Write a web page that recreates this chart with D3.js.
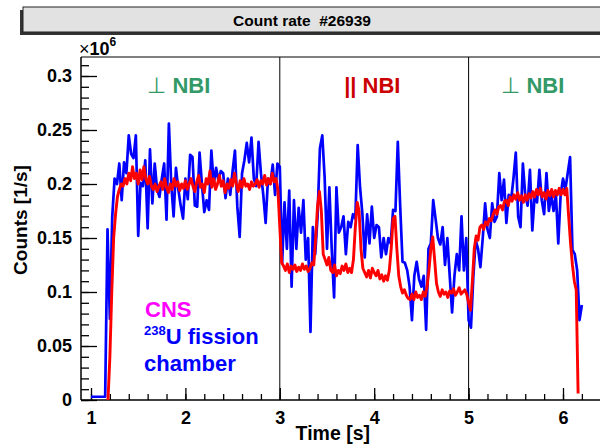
<!DOCTYPE html>
<html><head><meta charset="utf-8">
<script src="https://cdn.jsdelivr.net/npm/d3@7"></script>
<style>
html,body{margin:0;padding:0;background:#fff;}
svg text{font-family:"Liberation Sans",Arial,Helvetica,sans-serif;font-weight:bold;}
</style></head>
<body>
<svg id="chart" width="600" height="444"></svg>
<script>
// ---- data (counts in units of 1e6 per second) ----
const titleText = "Count rate\u00A0\u00A0#26939";
const xTickValues = [1, 2, 3, 4, 5, 6];
const yTickValues = [0, 0.05, 0.1, 0.15, 0.2, 0.25, 0.3];
const yTickLabels = ["0", "0.05", "0.1", "0.15", "0.2", "0.25", "0.3"];
const phaseBoundaries = [3, 5];

// 238U fission chamber (blue), sampled from t = 1.0 s every 0.025 s
const fissionStart = 1.0, fissionStep = 0.025;
const fissionValues = [
0.003,0.003,0.003,0.003,0.003,0.003,0.003,0.158,0.075,0.17,
0.205,0.20,0.219,0.185,0.220,0.21,0.245,0.228,0.224,0.245,
0.152,0.201,0.198,0.222,0.159,0.232,0.182,0.219,0.195,0.188,
0.205,0.219,0.167,0.256,0.20,0.170,0.215,0.195,0.18,0.168,
0.205,0.186,0.227,0.225,0.18,0.179,0.229,0.20,0.174,0.185,
0.176,0.231,0.20,0.215,0.203,0.212,0.21,0.187,0.205,0.19,
0.212,0.231,0.179,0.151,0.21,0.222,0.238,0.22,0.243,0.205,
0.198,0.239,0.21,0.19,0.164,0.205,0.20,0.218,0.19,0.219,
0.216,0.127,0.183,0.14,0.194,0.105,0.185,0.14,0.178,0.155,
0.185,0.13,0.15,0.063,0.16,0.135,0.17,0.233,0.245,0.206,
0.14,0.197,0.14,0.095,0.197,0.155,0.16,0.17,0.135,0.165,
0.16,0.172,0.168,0.236,0.197,0.172,0.132,0.172,0.145,0.179,
0.15,0.162,0.16,0.132,0.15,0.135,0.15,0.145,0.176,0.175,
0.239,0.18,0.128,0.127,0.12,0.105,0.074,0.115,0.128,0.112,
0.105,0.115,0.065,0.14,0.145,0.185,0.168,0.15,0.144,0.16,
0.125,0.15,0.115,0.081,0.115,0.135,0.12,0.170,0.12,0.15,
0.074,0.067,0.114,0.148,0.14,0.123,0.15,0.182,0.158,0.15,
0.182,0.165,0.17,0.21,0.185,0.204,0.164,0.19,0.185,0.205,
0.229,0.17,0.16,0.219,0.19,0.18,0.213,0.157,0.19,0.183,
0.213,0.185,0.172,0.21,0.175,0.19,0.175,0.19,0.145,0.19,
0.205,0.195,0.21,0.225,0.139,0.135,0.12,0.074,0.088
];

// CNS (red), sampled from t = 1.18 s every 0.02 s
const cnsStart = 1.18, cnsStep = 0.02;
const cnsValues = [
0.0,0.04,0.10,0.15,0.172,0.188,0.195,0.20,0.198,0.205,
0.200,0.21,0.203,0.216,0.205,0.21,0.20,0.213,0.204,0.216,
0.205,0.2,0.207,0.198,0.195,0.2,0.193,0.198,0.202,0.195,
0.205,0.197,0.192,0.2,0.195,0.205,0.198,0.202,0.194,0.2,
0.196,0.203,0.195,0.2,0.205,0.198,0.193,0.202,0.208,0.197,
0.2,0.192,0.205,0.2,0.212,0.197,0.205,0.195,0.2,0.208,
0.198,0.203,0.192,0.2,0.196,0.204,0.198,0.21,0.2,0.193,
0.203,0.197,0.205,0.198,0.2,0.195,0.202,0.198,0.2,0.204,
0.197,0.203,0.2,0.208,0.199,0.205,0.2,0.21,0.202,0.205,
0.195,0.16,0.127,0.124,0.12,0.126,0.118,0.124,0.121,0.125,
0.119,0.123,0.12,0.126,0.121,0.124,0.119,0.122,0.127,0.125,
0.15,0.18,0.193,0.175,0.135,0.13,0.125,0.132,0.12,0.118,
0.125,0.115,0.12,0.117,0.124,0.12,0.126,0.118,0.122,0.118,
0.13,0.16,0.183,0.175,0.14,0.122,0.118,0.114,0.12,0.113,
0.122,0.118,0.115,0.12,0.112,0.116,0.11,0.115,0.111,0.12,
0.14,0.168,0.17,0.14,0.115,0.105,0.099,0.102,0.097,0.094,
0.093,0.098,0.093,0.1,0.095,0.097,0.093,0.1,0.096,0.105,
0.12,0.14,0.151,0.13,0.108,0.1,0.096,0.102,0.098,0.1,
0.095,0.101,0.099,0.103,0.097,0.1,0.104,0.098,0.1,0.102,
0.098,0.09,0.083,0.11,0.14,0.152,0.148,0.16,0.162,0.158,
0.165,0.162,0.168,0.166,0.172,0.176,0.172,0.179,0.18,0.176,
0.184,0.185,0.18,0.188,0.184,0.19,0.186,0.192,0.185,0.189,
0.183,0.19,0.185,0.191,0.187,0.193,0.188,0.195,0.19,0.196,
0.188,0.192,0.186,0.194,0.189,0.195,0.188,0.194,0.19,0.196,
0.19,0.195,0.19,0.196,0.17,0.145,0.125,0.11,0.102,0.006
];

const phaseLabels = [
  {t: 1.93, sym: "\u22A5", text: "NBI", color: "#339966"},
  {t: 3.98, sym: "||", text: "NBI", color: "#cc0000"},
  {t: 5.68, sym: "\u22A5", text: "NBI", color: "#339966"}
];

// ---- layout ----
const svg = d3.select("#chart");
const frame = {left: 81, top: 57, bottom: 400, right: 612};
const x = d3.scaleLinear().domain([1, 6]).range([91, 563]);
const y = d3.scaleLinear().domain([0, 0.3]).range([400, 76]);
const xMin = x.invert(frame.left), xMax = x.invert(frame.right);

// title box
svg.append("rect").attr("x", 20).attr("y", 10).attr("width", 600).attr("height", 25).attr("fill", "#333");
svg.append("rect").attr("x", 23).attr("y", 7).attr("width", 600).attr("height", 25)
  .attr("fill", "#e2e2e2").attr("stroke", "#222").attr("stroke-width", 1);
svg.append("text").attr("x", 302).attr("y", 26).attr("text-anchor", "middle")
  .attr("font-size", 15.5).attr("fill", "#000").text(titleText);

// frame
svg.append("line").attr("x1", frame.left).attr("x2", frame.right).attr("y1", frame.top).attr("y2", frame.top)
  .attr("stroke", "#000").attr("stroke-width", 1);

// phase boundaries
svg.selectAll("line.phase").data(phaseBoundaries).enter().append("line")
  .attr("class", "phase")
  .attr("x1", d => x(d)).attr("x2", d => x(d))
  .attr("y1", frame.top).attr("y2", frame.bottom)
  .attr("stroke", "#000").attr("stroke-width", 1);

// y axis
const yMinor = d3.range(0, 0.3175, 0.01).map(v => +v.toFixed(3));
svg.append("g").attr("transform", `translate(${frame.left},0)`)
  .call(d3.axisRight(y).tickValues(yMinor).tickSize(8).tickFormat(""))
  .call(g => g.select(".domain").remove())
  .call(g => g.selectAll("line").attr("stroke", "#000").attr("stroke-width", 1.3));
const yAxis = svg.append("g").attr("transform", `translate(${frame.left},0)`)
  .call(d3.axisRight(y).tickValues(yTickValues).tickSize(16)
    .tickFormat((d, i) => yTickLabels[i]));
yAxis.select(".domain").remove();
yAxis.selectAll("line").attr("stroke", "#000").attr("stroke-width", 1.3);
yAxis.selectAll("text").attr("x", -9).attr("text-anchor", "end").attr("font-size", 18)
  .attr("font-family", "Liberation Sans, Arial, sans-serif").attr("font-weight", "bold").attr("fill", "#000");
svg.append("line").attr("x1", frame.left).attr("x2", frame.left).attr("y1", frame.top).attr("y2", frame.bottom)
  .attr("stroke", "#000").attr("stroke-width", 1.5);

// x axis
const xMinorTicks = d3.range(1, 6.5, 0.2).map(v => +v.toFixed(2)).filter(v => v <= xMax);
svg.append("g").attr("transform", `translate(0,${frame.bottom})`)
  .call(d3.axisTop(x).tickValues(xMinorTicks).tickSize(6).tickFormat(""))
  .call(g => g.select(".domain").remove())
  .call(g => g.selectAll("line").attr("stroke", "#000").attr("stroke-width", 1.3));
const xAxis = svg.append("g").attr("transform", `translate(0,${frame.bottom})`)
  .call(d3.axisTop(x).tickValues(xTickValues).tickSize(12).tickFormat(d3.format("d")));
xAxis.select(".domain").remove();
xAxis.selectAll("line").attr("stroke", "#000").attr("stroke-width", 1.3);
xAxis.selectAll("text").attr("y", 24).attr("dy", 0).attr("font-size", 18)
  .attr("font-family", "Liberation Sans, Arial, sans-serif").attr("font-weight", "bold").attr("fill", "#000");
svg.append("line").attr("x1", frame.left).attr("x2", frame.right).attr("y1", frame.bottom).attr("y2", frame.bottom)
  .attr("stroke", "#000").attr("stroke-width", 1.5);

// axis titles
svg.append("text").attr("x", 370).attr("y", 440).attr("text-anchor", "end")
  .attr("font-size", 19.5).attr("fill", "#000").text("Time [s]");
svg.append("text").attr("transform", "translate(27,220) rotate(-90)").attr("text-anchor", "middle")
  .attr("font-size", 19).attr("fill", "#000").text("Counts [1/s]");
const mult = svg.append("text").attr("x", 79).attr("y", 55).attr("font-size", 18).attr("fill", "#000");
mult.append("tspan").attr("font-weight", "normal").text("\u00D7");
mult.append("tspan").text("10");
mult.append("tspan").attr("dy", -9).attr("font-size", 12).text("6");

// series
const line = d3.line().x(d => x(d.t)).y(d => y(d.v));
const fission = fissionValues.map((v, i) => ({t: fissionStart + i * fissionStep, v}));
const cns = cnsValues.map((v, i) => ({t: cnsStart + i * cnsStep, v}));
svg.append("path").datum(fission).attr("d", line).attr("fill", "none")
  .attr("stroke", "#0000ff").attr("stroke-width", 2.7).attr("stroke-linejoin", "round");
svg.append("path").datum(cns).attr("d", line).attr("fill", "none")
  .attr("stroke", "#ff0000").attr("stroke-width", 2.9).attr("stroke-linejoin", "round");

// phase labels
phaseLabels.forEach(p => {
  const t = svg.append("text").attr("x", x(p.t)).attr("y", 93).attr("text-anchor", "middle")
    .attr("font-size", 22).attr("fill", p.color);
  t.append("tspan").attr("font-weight", p.sym === "||" ? "bold" : "normal").text(p.sym + "\u00A0");
  t.append("tspan").text(p.text);
});

// legend
svg.append("text").attr("x", 145).attr("y", 317).attr("font-size", 22).attr("fill", "#ff00ff").text("CNS");
const l2 = svg.append("text").attr("x", 144).attr("y", 344).attr("font-size", 22).attr("fill", "#0000ff");
l2.append("tspan").attr("font-size", 13).attr("dy", -9).text("238");
l2.append("tspan").attr("dy", 9).text("U fission");
svg.append("text").attr("x", 144).attr("y", 371).attr("font-size", 22).attr("fill", "#0000ff").text("chamber");
</script>
</body></html>
